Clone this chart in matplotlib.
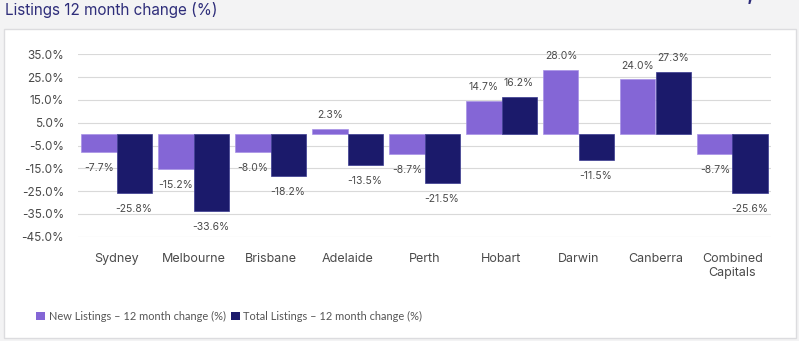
import matplotlib
matplotlib.use("Agg")
import matplotlib.pyplot as plt
from matplotlib.patches import Patch, Rectangle
import numpy as np

# City-level 12 month change in listings (%)
cities = ["Sydney", "Melbourne", "Brisbane", "Adelaide", "Perth",
          "Hobart", "Darwin", "Canberra", "Combined\nCapitals"]
new_listings = [-7.7, -15.2, -8.0, 2.3, -8.7, 14.7, 28.0, 24.0, -8.7]
total_listings = [-25.8, -33.6, -18.2, -13.5, -21.5, 16.2, -11.5, 27.3, -25.6]
y_ticks = [35, 25, 15, 5, -5, -15, -25, -35, -45]

purple = "#8466d6"
navy = "#1b1a6b"
grid_col = "#d9d9d9"
text_col = "#4a4a4a"

fig = plt.figure(figsize=(7.99, 3.41), dpi=100)
fig.patch.set_facecolor("#f3f3f4")

# white card behind the chart
card = Rectangle((4 / 799, 1 - 338 / 341), 792 / 799, 309 / 341,
                 transform=fig.transFigure, facecolor="white",
                 edgecolor="#dcdcdf", linewidth=1.0, zorder=-10)
fig.patches.append(card)

fig.text(5 / 799, 1 - 10 / 341, "Listings 12 month change (%)",
         fontsize=11, color="#2e2d7a", family="Inter", va="center", ha="left")
fig.text(790 / 799, 1 - 4.5 / 341, "20,279", fontsize=14, color="#2e2d7a",
         family="Inter", fontweight="bold", va="bottom", ha="right")

ax = fig.add_axes([78 / 799, 1 - 236.8 / 341, 693 / 799, 182.5 / 341])
ax.set_facecolor("none")

x = np.arange(len(cities))
w = 0.455
b1 = ax.bar(x - w / 2, new_listings, w, color=purple, edgecolor="#a892e6",
            linewidth=0.5, zorder=3)
b2 = ax.bar(x + w / 2, total_listings, w, color=navy, edgecolor="#3a3990",
            linewidth=0.5, zorder=3)

# value labels above positive bars, below negative ones
for bars, vals in [(b1, new_listings), (b2, total_listings)]:
    for bar, v in zip(bars, vals):
        cx = bar.get_x() + bar.get_width() / 2
        off = 10 if v >= 0 else -11.5
        ax.annotate(f"{v:.1f}%", (cx, v), xytext=(0, off),
                    textcoords="offset points", ha="center", va="center",
                    fontsize=7.5, color=text_col, family="Inter", zorder=4)

ax.set_xlim(-0.5, len(cities) - 0.5)
ax.set_ylim(-45, 35)
ax.set_yticks(y_ticks)
ax.set_yticklabels([f"{t:.1f}%" for t in y_ticks])
ax.set_xticks(x)
ax.set_xticklabels(cities)
ax.grid(axis="y", color=grid_col, linewidth=0.8, zorder=0)
ax.tick_params(axis="y", length=0, pad=10, labelsize=8.5, labelcolor=text_col)
ax.tick_params(axis="x", length=0, pad=12, labelsize=9, labelcolor=text_col)
for lab in ax.get_xticklabels() + ax.get_yticklabels():
    lab.set_family("Inter")
for s in ax.spines.values():
    s.set_visible(False)

handles = [Patch(facecolor=purple, label="New Listings – 12 month change (%)"),
           Patch(facecolor=navy, label="Total Listings – 12 month change (%)")]
fig.legend(handles=handles, loc="center left",
           bbox_to_anchor=(31 / 799, 1 - 316 / 341), ncol=2, frameon=False,
           handlelength=0.8, handleheight=0.8,
           handletextpad=0.3, columnspacing=0.5, borderpad=0,
           prop={"family": "Lato", "size": 7.9}, labelcolor="#555555")

fig.savefig("out.png", dpi=100)
